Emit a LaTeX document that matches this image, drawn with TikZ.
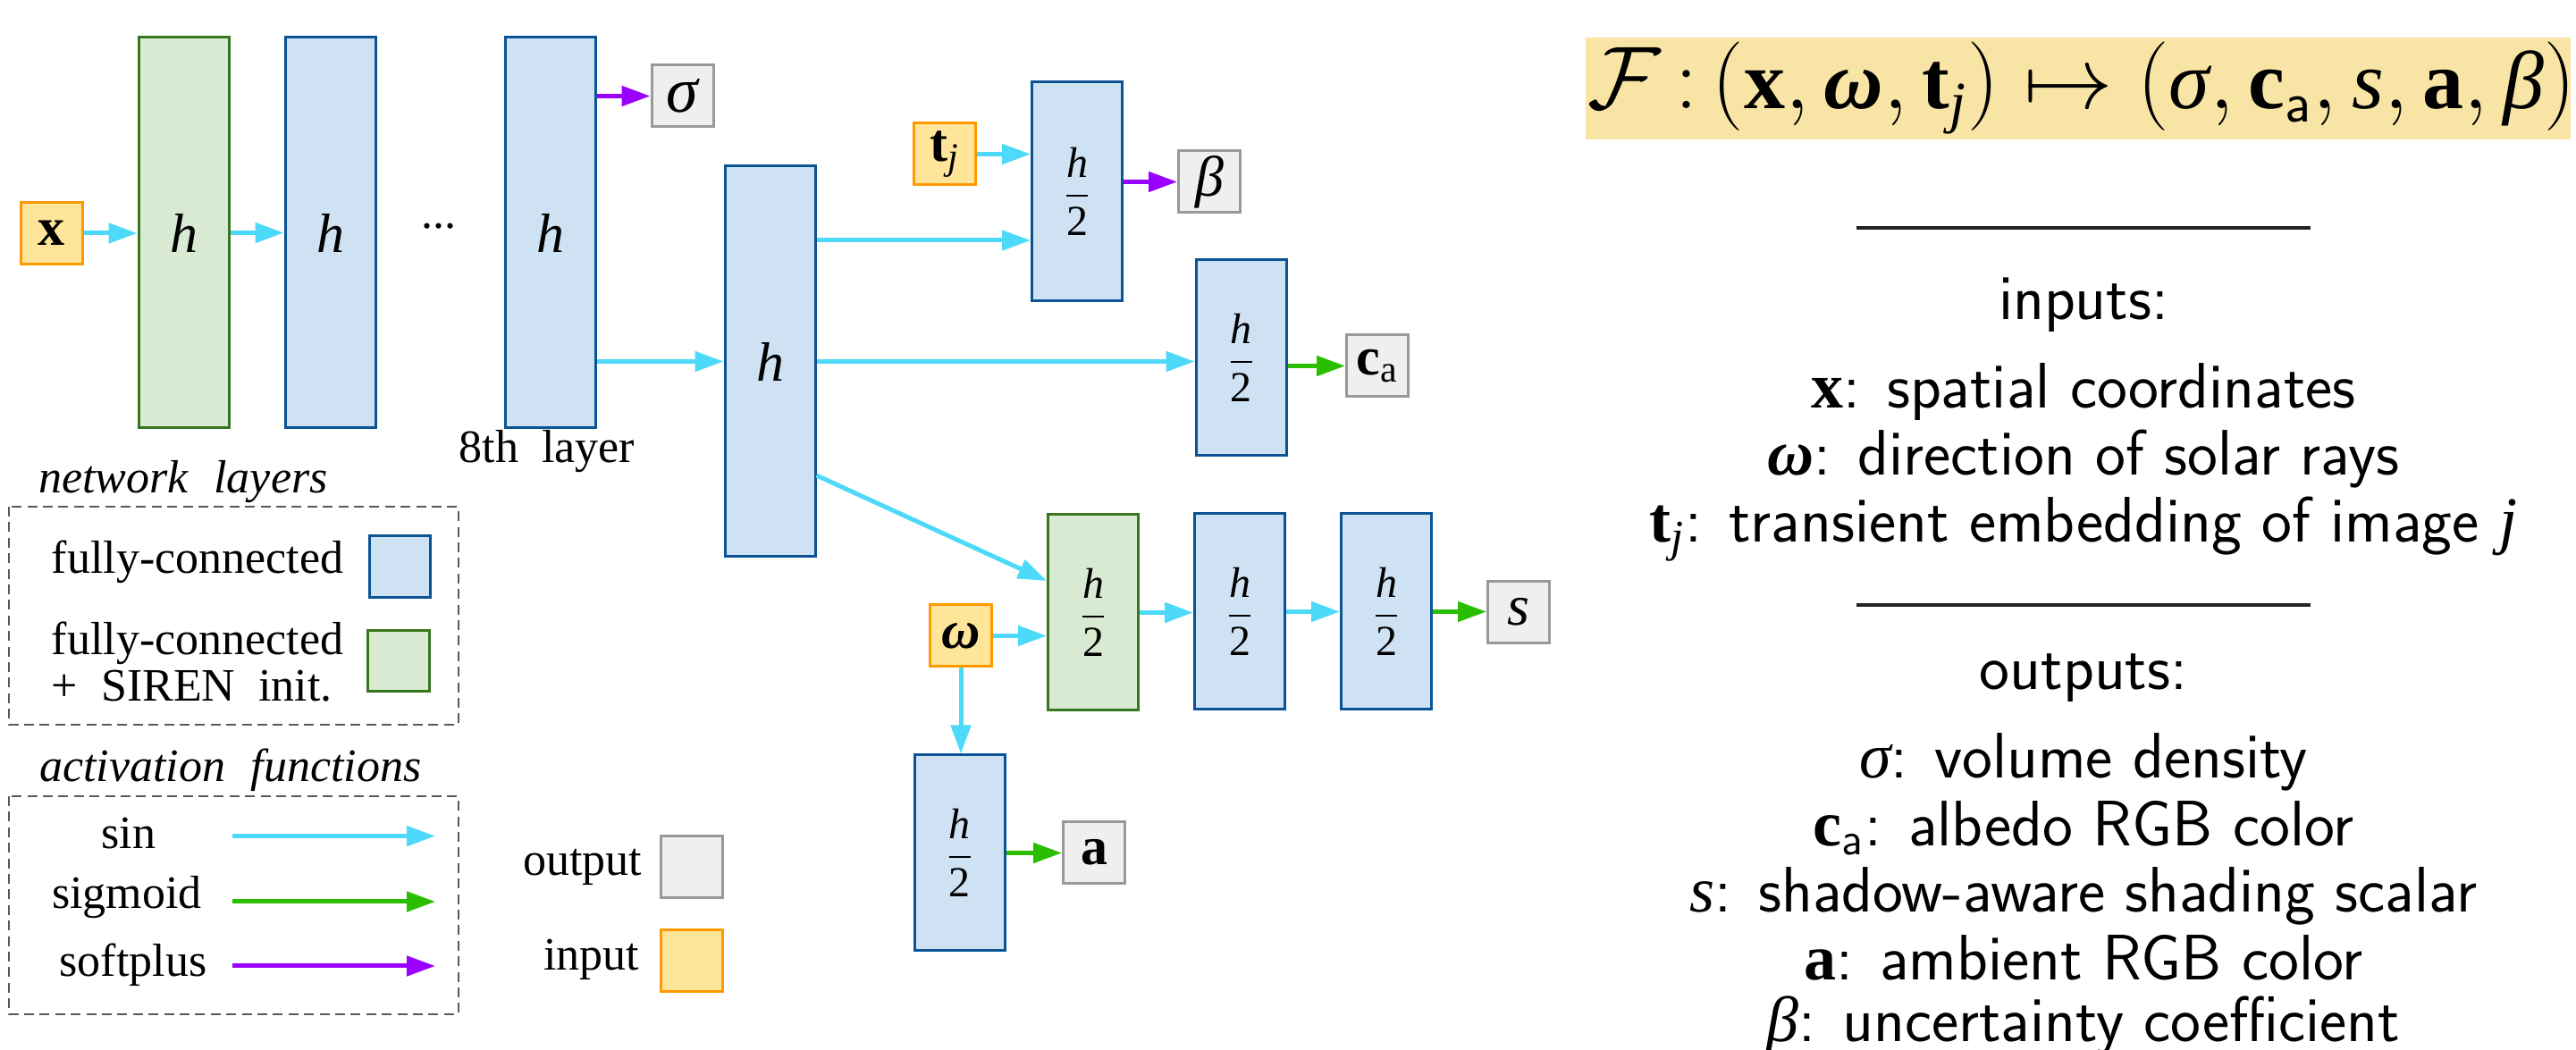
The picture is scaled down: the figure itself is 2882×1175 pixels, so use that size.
\documentclass[tikz,border=0pt]{standalone}
\usepackage{fontspec}
\usepackage{amsmath}
\setmainfont{Liberation Serif}
\usetikzlibrary{arrows.meta,calc}
\definecolor{blight}{HTML}{CFE2F3}
\definecolor{bdark}{HTML}{0B5394}
\definecolor{glight}{HTML}{D9EAD3}
\definecolor{gdark}{HTML}{38761D}
\definecolor{ofill}{HTML}{EFEFEF}
\definecolor{odraw}{HTML}{999999}
\definecolor{ifill}{HTML}{FFE599}
\definecolor{idraw}{HTML}{FF9900}
\definecolor{cyanarr}{HTML}{4DD9F8}
\definecolor{greenarr}{HTML}{2BBE00}
\definecolor{purplearr}{HTML}{9900FF}
\definecolor{formfill}{HTML}{F8E5A5}
\definecolor{dashc}{HTML}{595959}
\definecolor{rulec}{HTML}{222222}
\newcommand{\hfr}{$\displaystyle\frac{\text{\itshape h}}{\text{2}}$}
\newcommand{\Vx}{\textnormal{\bfseries x}}
\newcommand{\Vom}{\textnormal{\bfseries\itshape ω}}
\newcommand{\Vt}{\textnormal{\bfseries t}}
\newcommand{\Gsig}{\textnormal{\itshape σ}}
\newcommand{\Gbet}{\textnormal{\itshape β}}
\newcommand{\Vc}{\textnormal{\bfseries c}}
\newcommand{\Va}{\textnormal{\bfseries a}}
\newcommand{\Ls}{\textnormal{\itshape s}}
\newcommand{\Lj}{\textnormal{\itshape j}}
\begin{document}
\begin{tikzpicture}[x=0.25pt,y=-0.25pt,
  layer/.style={draw=bdark, fill=blight, line width=0.75pt, minimum width=25.25pt, inner sep=0pt},
  siren/.style={draw=gdark, fill=glight, line width=0.75pt, minimum width=25.25pt, inner sep=0pt},
  tall/.style={minimum height=109.25pt, font=\fontsize{15.5}{18}\selectfont},
  midh/.style={minimum height=61.25pt, font=\fontsize{12}{14}\selectfont},
  shorth/.style={minimum height=54.75pt, font=\fontsize{12}{14}\selectfont},
  outbox/.style={draw=odraw, fill=ofill, line width=0.75pt, minimum width=17.25pt, minimum height=17.25pt, inner sep=0pt, font=\fontsize{15}{17}\selectfont},
  inbox/.style={draw=idraw, fill=ifill, line width=0.75pt, minimum width=17.25pt, minimum height=17.25pt, inner sep=0pt, font=\fontsize{15}{17}\selectfont},
  sinarr/.style={draw=cyanarr, line width=1.25pt, -{Triangle[length=8pt,width=5.5pt]}},
  sigarr/.style={draw=greenarr, line width=1.25pt, -{Triangle[length=8pt,width=5.5pt]}},
  softarr/.style={draw=purplearr, line width=1.25pt, -{Triangle[length=8pt,width=5.5pt]}},
  legbox/.style={draw=dashc, line width=0.5pt, dash pattern=on 2.75pt off 1.6pt},
  ltext/.style={font=\fontsize{13}{15}\selectfont, inner sep=0pt},
  rtext/.style={font=\fontsize{18}{21}\selectfont\sffamily, inner sep=0pt, anchor=base},
  rulestyle/.style={draw=rulec, line width=1.2pt}
]
\useasboundingbox (0,0) rectangle (2882,1175);

% main trunk
\node[inbox] (x) at (57.5,261) {\bfseries x};
\node[siren,tall] (l1) at (205.5,260.5) {\itshape h};
\node[layer,tall] (l2) at (369.5,260.5) {\itshape h};
\node[ltext,anchor=base] (dots) at (491,256) {...};
\node[layer,tall] (l8) at (615.5,260.5) {\itshape h};
\node[ltext,anchor=base] (l8lab) at (612,518) {8th\ \ layer};
\node[outbox,font=\fontsize{18}{20}\selectfont] (sig) at (763.5,107.5) {\itshape σ};
\node[layer,tall] (bigh) at (861.5,404.5) {\itshape h};

% beta branch
\node[inbox] (tj) at (1057,172.5) {\bfseries t\textsubscript{\mdseries\itshape j}};
\node[layer,midh] (bb) at (1205,214.5) {\hfr};
\node[outbox,font=\fontsize{16}{18}\selectfont] (beta) at (1353,203.5) {\itshape β};

% colour branch
\node[layer,shorth] (cab) at (1388.5,400.5) {\hfr};
\node[outbox] (ca) at (1541,409.5) {\bfseries c\textsubscript{\mdseries a}};

% shading branch
\node[siren,shorth] (g2) at (1223,685.5) {\hfr};
\node[layer,shorth] (h2b) at (1387,684.5) {\hfr};
\node[layer,shorth] (h2c) at (1551,684.5) {\hfr};
\node[outbox,font=\fontsize{16}{18}\selectfont] (s) at (1699,685) {\itshape s};
\node[inbox] (om) at (1075,711.5) {\bfseries\itshape ω};
\node[layer,shorth] (ab) at (1073.7,954.5) {\hfr};
\node[outbox] (a) at (1224,954) {\bfseries a};

% connectors
\draw[sinarr] (x.east) -- (x.east -| l1.west);
\draw[sinarr] (l1.east) -- (l1.east -| l2.west);
\draw[softarr] (sig.west -| l8.east) -- (sig.west);
\draw[sinarr] (bigh.west -| l8.east) -- (bigh.west);
\draw[sinarr] (bigh.east |- 0,269) -- (bb.west |- 0,269);
\draw[sinarr] (tj.east) -- (tj.east -| bb.west);
\draw[softarr] (beta.west -| bb.east) -- (beta.west);
\draw[sinarr] (bigh.east) -- (bigh.east -| cab.west);
\draw[sigarr] (ca.west -| cab.east) -- (ca.west);
\draw[sinarr] (bigh.east |- 0,532) -- (g2.west |- 0,650);
\draw[sinarr] (om.east) -- (om.east -| g2.west);
\draw[sinarr] (g2.east) -- (g2.east -| h2b.west);
\draw[sinarr] (h2b.east) -- (h2b.east -| h2c.west);
\draw[sigarr] (h2c.east) -- (h2c.east -| s.west);
\draw[sinarr] (om.south) -- (om.south |- ab.north);
\draw[sigarr] (ab.east) -- (ab.east -| a.west);

% legend: network layers
\node[ltext,anchor=base,font=\fontsize{13}{15}\selectfont\itshape] (nl) at (205,552) {network\hspace{0.3em} layers};
\draw[legbox] (10,567) rectangle (512.6,811);
\node[ltext,anchor=base west] (fc1) at (57,642) {fully-connected};
\node[layer,minimum width=17pt,minimum height=17.25pt] (swb) at (447,634.5) {};
\node[ltext,anchor=base west] (fc2) at (57,732.5) {fully-connected};
\node[ltext,anchor=base west] (fc3) at (57,785) {+\ \ SIREN\ \ init.};
\node[siren,minimum width=17.25pt,minimum height=17pt] (swg) at (445.5,740) {};

% legend: activation functions
\node[ltext,anchor=base,font=\fontsize{13}{15}\selectfont\itshape] (af) at (258,874.5) {activation\hspace{0.3em} functions};
\draw[legbox] (10,891) rectangle (512.6,1135);
\node[ltext,anchor=base] (lsin) at (144,950) {sin};
\node[ltext,anchor=base] (lsig) at (142,1016.6) {sigmoid};
\node[ltext,anchor=base] (lsoft) at (149,1092) {softplus};
\coordinate (sinS) at (260,935.6); \coordinate (sinE) at (487,935.6);
\coordinate (sigS) at (260,1009); \coordinate (sigE) at (487,1009);
\coordinate (sofS) at (260,1081); \coordinate (sofE) at (487,1081);
\draw[sinarr] (sinS) -- (sinE);
\draw[sigarr] (sigS) -- (sigE);
\draw[softarr] (sofS) -- (sofE);

% legend: output / input
\node[ltext,anchor=base east] (lout) at (718.7,980) {output};
\node[outbox] (swo) at (774,970) {};
\node[ltext,anchor=base east] (lin) at (716,1085.5) {input};
\node[inbox] (swi) at (774,1075) {};

% right: formula and descriptions
\node[fill=formfill, minimum width=275.5pt, minimum height=28.6pt, inner sep=0pt] (fbox) at (2325,98.75) {};
\node[inner sep=0pt, font=\fontsize{23}{27}\selectfont] (form) at (2329,99)
  {$\mathcal{F}\,{:}\,(\Vx,\Vom,\Vt_{\Lj})\mapsto(\Gsig,\Vc_{\mathsf{a}},\Ls,\Va,\Gbet)$};
\coordinate (r1a) at (2077,255); \coordinate (r1b) at (2585,255);
\draw[rulestyle] (r1a) -- (r1b);
\node[rtext] (tin) at (2331,358) {inputs:};
\node[rtext] (ix) at (2331,457) {$\Vx$: spatial coordinates};
\node[rtext] (iom) at (2331,532) {$\Vom$: direction of solar rays};
\node[rtext] (itj) at (2331,607) {$\Vt_{\Lj}$: transient embedding of image $\Lj$};
\coordinate (r2a) at (2077,677); \coordinate (r2b) at (2585,677);
\draw[rulestyle] (r2a) -- (r2b);
\node[rtext] (tout) at (2331,772) {outputs:};
\node[rtext] (osig) at (2331,871) {$\Gsig$: volume density};
\node[rtext] (oca) at (2331,946.5) {$\Vc_{\mathsf{a}}$: albedo RGB color};
\node[rtext] (os) at (2331,1020) {$\Ls$: shadow-aware shading scalar};
\node[rtext] (oa) at (2331,1097) {$\Va$: ambient RGB color};
\node[rtext] (obeta) at (2331,1165) {$\Gbet$: uncertainty coefficient};
\end{tikzpicture}
\end{document}
